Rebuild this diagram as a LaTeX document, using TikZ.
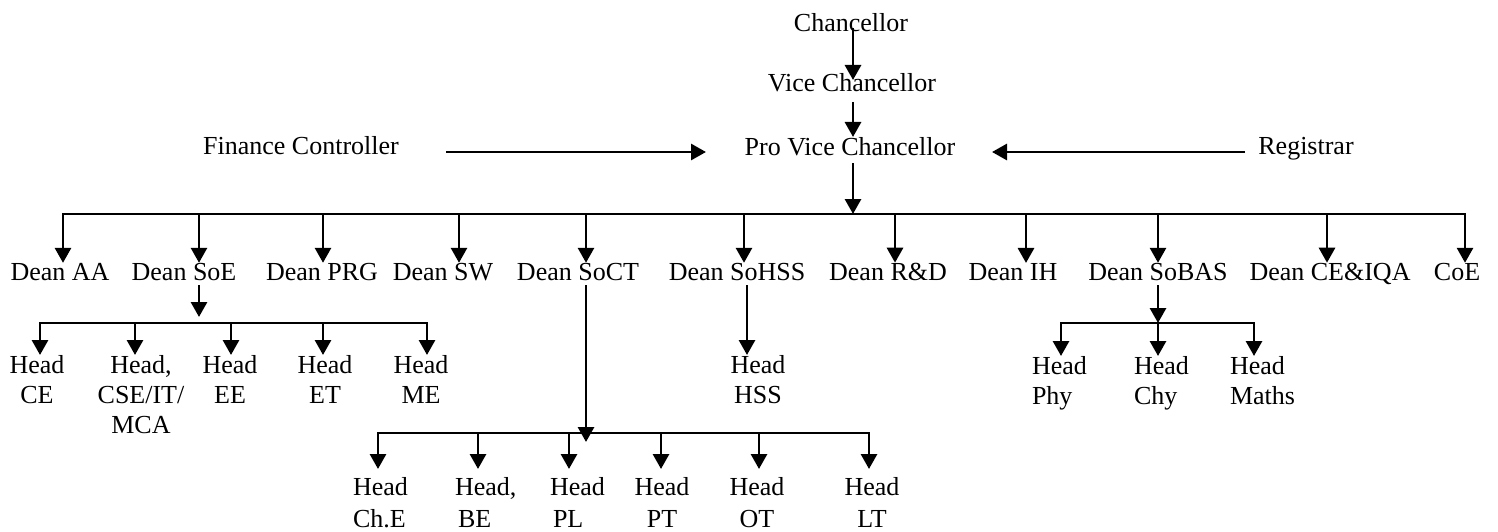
\documentclass[tikz,border=0pt]{standalone}
\usepackage{fontspec}
\setmainfont{Liberation Serif}
\usetikzlibrary{arrows.meta,calc}
\tikzset{
  lbl/.style={inner sep=0pt, outer sep=0pt, font=\fontsize{26}{30}\selectfont},
  headA/.style={lbl, align=center, anchor=north},
  headL/.style={lbl, align=left, anchor=north west},
  headB/.style={inner sep=0pt, outer sep=0pt, font=\fontsize{26}{32}\selectfont, align=center, anchor=north},
  headBL/.style={headB, align=left, anchor=north west},
  arr/.style={-{Triangle[width=16pt,length=15pt]}, line width=2.9pt},
  bus/.style={line width=2.9pt, line cap=rect}
}
\begin{document}
\begin{tikzpicture}[x=1pt,y=-1pt]
\useasboundingbox (0,0) rectangle (1498,532);

% top level
\node[lbl, anchor=base] (chan) at (851,32) {Chancellor};
\node[lbl, anchor=base] (vc) at (852,92) {Vice Chancellor};
\node[lbl, anchor=base] (pvc) at (850,155) {Pro Vice Chancellor};
\node[lbl, anchor=base] (fin) at (301,154) {Finance Controller};
\node[lbl, anchor=base] (reg) at (1306,154) {Registrar};

\coordinate (c1) at (853,28);
\coordinate (c2) at (853,80);
\coordinate (c3) at (853,102);
\coordinate (c4) at (853,137);
\coordinate (c5) at (853,163);
\draw[arr] (c1) -- (c2);
\draw[arr] (c3) -- (c4);

\coordinate (f1) at (446,152);
\coordinate (f2) at (706,152);
\coordinate (r1) at (1245,152);
\coordinate (r2) at (992,152);
\draw[arr] (f1) -- (f2);
\draw[arr] (r1) -- (r2);

% main bus
\coordinate (jaa) at (63,214);
\coordinate (jsoe) at (199,214);
\coordinate (jprg) at (323,214);
\coordinate (jsw) at (459,214);
\coordinate (jsoct) at (586,214);
\coordinate (jsohss) at (744,214);
\coordinate (jrd) at (895,214);
\coordinate (jih) at (1026,214);
\coordinate (jsobas) at (1158,214);
\coordinate (jceiqa) at (1327,214);
\coordinate (jcoe) at (1465,214);
\coordinate (jpvc) at (853,214);
\draw[bus] (jaa) -- (jcoe);
\draw[arr] (c5) -- (jpvc);

% deans
\node[lbl, anchor=base] (aa) at (60,280) {Dean AA};
\node[lbl, anchor=base] (soe) at (184,280) {Dean SoE};
\node[lbl, anchor=base] (prg) at (322,280) {Dean PRG};
\node[lbl, anchor=base] (sw) at (443,280) {Dean SW};
\node[lbl, anchor=base] (soct) at (578,280) {Dean SoCT};
\node[lbl, anchor=base] (sohss) at (737,280) {Dean SoHSS};
\node[lbl, anchor=base] (rd) at (888,280) {Dean R\&D};
\node[lbl, anchor=base] (ih) at (1013,280) {Dean IH};
\node[lbl, anchor=base] (sobas) at (1158,280) {Dean SoBAS};
\node[lbl, anchor=base] (ceiqa) at (1330,280) {Dean CE\&IQA};
\node[lbl, anchor=base] (coe) at (1457,280) {CoE};

\foreach \j/\n in {jaa/aa, jsoe/soe, jprg/prg, jsw/sw, jsoct/soct, jsohss/sohss, jrd/rd, jih/ih, jsobas/sobas, jceiqa/ceiqa, jcoe/coe}
  \draw[arr] (\j) -- (\j |- \n.north);

% SoE branch
\coordinate (ksoe) at (199,317);
\draw[arr, shorten <=5pt] (soe.south -| jsoe) -- (ksoe);
\coordinate (e1) at (40,323);
\coordinate (e2) at (135,323);
\coordinate (e3) at (231,323);
\coordinate (e4) at (323,323);
\coordinate (e5) at (427,323);
\draw[bus] (e1) -- (e5);
\node[headA] (hce) at (37,355) {Head\\CE};
\node[headA] (hcse) at (141,355) {Head,\\CSE/IT/\\MCA};
\node[headA] (hee) at (230,355) {Head\\EE};
\node[headA] (het) at (325,355) {Head\\ET};
\node[headA] (hme) at (421,355) {Head\\ME};
\foreach \j/\n in {e1/hce, e2/hcse, e3/hee, e4/het, e5/hme}
  \draw[arr] (\j) -- (\j |- \n.north);

% SoCT branch
\coordinate (ksoct) at (586,442);
\coordinate (t1) at (378,433);
\coordinate (t2) at (478,433);
\coordinate (t3) at (569,433);
\coordinate (t4) at (661,433);
\coordinate (t5) at (759,433);
\coordinate (t6) at (869,433);
\draw[bus] (t1) -- (t6);
\draw[arr, shorten <=5pt] (soct.south -| jsoct) -- (ksoct);
\node[headBL] (hche) at (353,477) {Head\\Ch.E};
\node[headBL] (hbe) at (455,477) {Head,\\\hspace{3pt}BE};
\node[headBL] (hpl) at (550,477) {Head\\\hspace{3pt}PL};
\node[headB] (hpt) at (662,477) {Head\\PT};
\node[headB] (hot) at (757,477) {Head\\OT};
\node[headB] (hlt) at (872,477) {Head\\LT};
\foreach \j/\n in {t1/hche, t2/hbe, t3/hpl, t4/hpt, t5/hot, t6/hlt}
  \draw[arr, shorten >=8pt] (\j) -- (\j |- \n.north);

% SoHSS branch
\node[headA] (hhss) at (758,355) {Head\\HSS};
\draw[arr, shorten <=5pt] (sohss.south -| 747,0) -- (747,0 |- hhss.north);

% SoBAS branch
\coordinate (b1) at (1061,323);
\coordinate (b2) at (1158,323);
\coordinate (b3) at (1254,323);
\draw[bus] (b1) -- (b3);
\draw[arr, shorten <=5pt] (sobas.south -| jsobas) -- (b2);
\node[headL] (hphy) at (1032,356) {Head\\Phy};
\node[headL] (hchy) at (1134,356) {Head\\Chy};
\node[headL] (hmaths) at (1230,356) {Head\\Maths};
\foreach \j/\n in {b1/hphy, b2/hchy, b3/hmaths}
  \draw[arr] (\j) -- (\j |- \n.north);

\end{tikzpicture}
\end{document}
